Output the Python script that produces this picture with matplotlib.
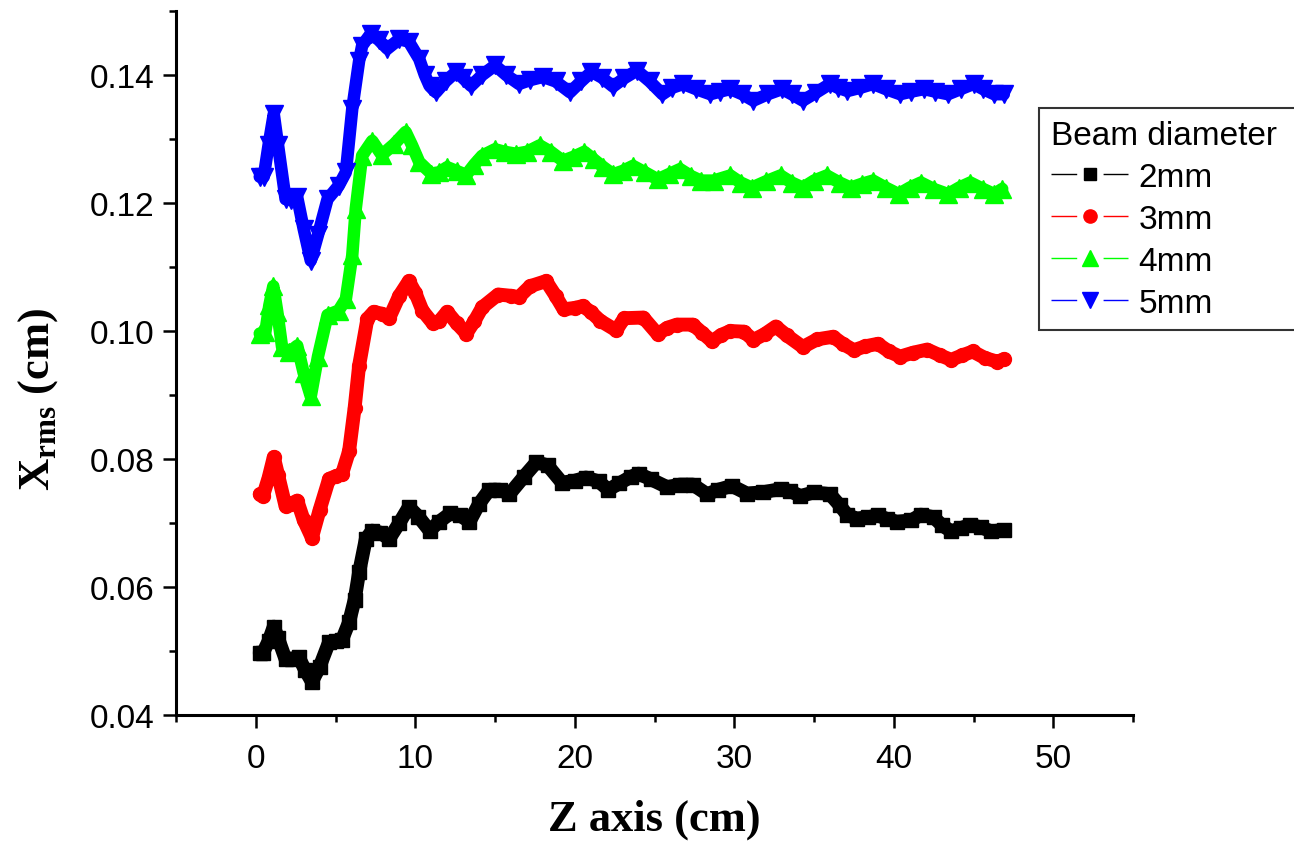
import numpy as np
import matplotlib
matplotlib.use('Agg')
import matplotlib.pyplot as plt
from matplotlib.lines import Line2D
from matplotlib.ticker import FixedLocator, FormatStrFormatter

plt.rcParams['font.family'] = ['Liberation Sans', 'DejaVu Sans']
plt.rcParams['mathtext.fontset'] = 'custom'
plt.rcParams['mathtext.rm'] = 'Liberation Serif:bold'
plt.rcParams['mathtext.bf'] = 'Liberation Serif:bold'
plt.rcParams['lines.scale_dashes'] = False

# Данные: Z (cm) и X_rms (cm)
x_2mm = [0.25, 0.45, 0.8, 1.13, 1.4, 1.87, 2.3, 2.7, 3.1, 3.52, 4.0, 4.6, 5.0, 5.4, 5.85, 6.2,
         6.48, 6.9, 7.3, 7.8, 8.36, 9.0, 9.6, 10.2, 10.9, 11.5, 12.2, 12.8, 13.4, 14.0, 14.65,
         15.3, 15.9, 16.8, 17.6, 18.3, 19.2, 20.0, 20.7, 21.5, 22.1, 22.8, 23.5, 24.0, 24.8,
         25.8, 26.6, 27.4, 28.3, 29.0, 29.85, 30.8, 31.8, 32.9, 33.5, 34.15, 35.0, 36.0, 36.6,
         37.1, 37.7, 38.4, 39.0, 39.6, 40.2, 41.1, 41.7, 42.5, 43.0, 43.6, 44.2, 44.8, 45.5,
         46.1, 46.9]
y_2mm = [0.0497, 0.0497, 0.0515, 0.0538, 0.0520, 0.0487, 0.0488, 0.0490, 0.0470, 0.0452,
         0.0475, 0.0514, 0.0516, 0.0517, 0.0545, 0.0580, 0.0623, 0.0675, 0.0688, 0.0685,
         0.0675, 0.0700, 0.0725, 0.0710, 0.0688, 0.0702, 0.0715, 0.0712, 0.0702, 0.0730,
         0.0752, 0.0752, 0.0745, 0.0772, 0.0795, 0.0790, 0.0763, 0.0766, 0.0771, 0.0765,
         0.0752, 0.0762, 0.0772, 0.0777, 0.0768, 0.0756, 0.0760, 0.0760, 0.0745, 0.0752,
         0.0758, 0.0746, 0.0748, 0.0753, 0.0750, 0.0742, 0.0748, 0.0745, 0.0728, 0.0712,
         0.0707, 0.0709, 0.0712, 0.0706, 0.0702, 0.0704, 0.0713, 0.0709, 0.0697, 0.0687,
         0.0692, 0.0697, 0.0693, 0.0687, 0.0689]

x_3mm = [0.25, 0.45, 0.8, 1.13, 1.4, 1.87, 2.2, 2.6, 3.0, 3.52, 4.0, 4.6, 5.0, 5.4, 5.85, 6.2,
         6.48, 7.0, 7.4, 7.9, 8.36, 9.0, 9.6, 10.0, 10.45, 11.1, 11.5, 12.0, 12.6, 13.2, 13.7,
         14.2, 15.2, 16.0, 16.5, 17.2, 18.2, 18.8, 19.3, 20.0, 20.5, 21.0, 21.6, 22.6, 23.1,
         24.3, 25.2, 25.8, 26.4, 27.4, 28.0, 28.6, 29.2, 29.75, 30.6, 31.2, 31.9, 32.6, 33.3,
         34.3, 35.2, 36.2, 36.8, 37.5, 38.2, 39.0, 39.7, 40.4, 41.2, 42.1, 42.9, 43.6, 44.3,
         44.95, 45.7, 46.5, 46.9]
y_3mm = [0.0745, 0.0742, 0.0770, 0.0803, 0.0775, 0.0726, 0.0730, 0.0735, 0.0705, 0.0677,
         0.0720, 0.0769, 0.0773, 0.0776, 0.0812, 0.0880, 0.0946, 0.1019, 0.1030, 0.1027,
         0.1020, 0.1055, 0.1078, 0.1060, 0.1032, 0.1012, 0.1015, 0.1030, 0.1012, 0.0996,
         0.1015, 0.1037, 0.1057, 0.1055, 0.1053, 0.1070, 0.1078, 0.1055, 0.1034, 0.1036,
         0.1039, 0.1030, 0.1016, 0.1001, 0.1020, 0.1021, 0.0995, 0.1005, 0.1010, 0.1010,
         0.0997, 0.0984, 0.0994, 0.1000, 0.0999, 0.0986, 0.0995, 0.1007, 0.0993, 0.0975,
         0.0987, 0.0991, 0.0980, 0.0970, 0.0976, 0.0980, 0.0968, 0.0960, 0.0966, 0.0971,
         0.0962, 0.0955, 0.0962, 0.0968, 0.0958, 0.0952, 0.0956]

x_4mm = [0.25, 0.6, 0.85, 1.1, 1.35, 1.65, 2.1, 2.6, 3.0, 3.45, 3.9, 4.5, 5.2, 5.65, 6.05,
         6.27, 6.67, 7.3, 7.9, 8.68, 9.4, 9.8, 10.25, 11.0, 11.5, 12.0, 12.6, 13.2, 13.7,
         14.2, 15.0, 15.6, 16.3, 17.0, 17.8, 18.5, 19.25, 19.9, 20.6, 21.2, 21.8, 22.4, 23.0,
         23.65, 24.4, 25.2, 25.9, 26.6, 27.3, 27.9, 28.7, 29.75, 30.4, 31.1, 32.0, 32.9,
         33.6, 34.3, 35.0, 35.8, 36.6, 37.3, 38.0, 38.7, 39.5, 40.3, 41.0, 41.7, 42.5, 43.4,
         44.1, 44.8, 45.6, 46.3, 46.8]
y_4mm = [0.0996, 0.0998, 0.1040, 0.1070, 0.1030, 0.0975, 0.0967, 0.0977, 0.0935, 0.0898,
         0.0960, 0.1025, 0.1032, 0.1050, 0.1118, 0.1191, 0.1274, 0.1297, 0.1275, 0.1292,
         0.1311, 0.1290, 0.1264, 0.1246, 0.1248, 0.1256, 0.1250, 0.1244, 0.1260, 0.1274,
         0.1284, 0.1280, 0.1277, 0.1280, 0.1290, 0.1280, 0.1266, 0.1272, 0.1280, 0.1268,
         0.1256, 0.1245, 0.1250, 0.1258, 0.1248, 0.1237, 0.1245, 0.1253, 0.1242, 0.1235,
         0.1235, 0.1243, 0.1232, 0.1224, 0.1234, 0.1243, 0.1232, 0.1224, 0.1235, 0.1243,
         0.1232, 0.1224, 0.1230, 0.1235, 0.1224, 0.1214, 0.1224, 0.1232, 0.1222, 0.1214,
         0.1224, 0.1232, 0.1222, 0.1214, 0.1222]

x_5mm = [0.25, 0.5, 0.8, 1.13, 1.4, 1.87, 2.2, 2.6, 3.0, 3.45, 3.9, 4.5, 5.2, 5.65, 6.05,
         6.48, 6.67, 7.2, 7.7, 8.25, 9.0, 9.6, 10.25, 10.6, 10.9, 11.3, 11.9, 12.56, 13.0,
         13.5, 14.2, 15.0, 15.7, 16.5, 17.2, 18.0, 18.8, 19.7, 20.4, 21.05, 21.7, 22.4, 23.1,
         23.9, 24.7, 25.5, 26.1, 26.8, 27.6, 28.5, 29.1, 29.75, 30.5, 31.2, 32.1, 33.0, 33.6,
         34.3, 35.1, 36.0, 36.5, 37.1, 37.9, 38.7, 39.5, 40.4, 41.1, 41.9, 42.6, 43.4, 44.2,
         45.0, 45.6, 46.3, 46.9]
y_5mm = [0.1241, 0.1241, 0.1290, 0.1339, 0.1290, 0.1206, 0.1205, 0.1209, 0.1160, 0.1110,
         0.1150, 0.1206, 0.1227, 0.1248, 0.1347, 0.1422, 0.1446, 0.1464, 0.1455, 0.1441,
         0.1456, 0.1452, 0.1425, 0.1400, 0.1383, 0.1373, 0.1390, 0.1405, 0.1395, 0.1383,
         0.1400, 0.1415, 0.1400, 0.1386, 0.1392, 0.1397, 0.1390, 0.1373, 0.1390, 0.1405,
         0.1396, 0.1382, 0.1395, 0.1407, 0.1390, 0.1370, 0.1380, 0.1386, 0.1378, 0.1370,
         0.1374, 0.1378, 0.1370, 0.1360, 0.1370, 0.1378, 0.1370, 0.1360, 0.1372, 0.1386,
         0.1380, 0.1375, 0.1380, 0.1386, 0.1378, 0.1370, 0.1374, 0.1378, 0.1374, 0.1370,
         0.1378, 0.1386, 0.1378, 0.1370, 0.1370]

labels = ['2mm', '3mm', '4mm', '5mm']
colors = ['#000000', '#ff0000', '#00ff00', '#0000ff']
markers = ['s', 'o', '^', 'v']
series = [(x_2mm, y_2mm), (x_3mm, y_3mm), (x_4mm, y_4mm), (x_5mm, y_5mm)]

fig = plt.figure(figsize=(12.94, 8.45), dpi=100)
ax = fig.add_axes([176 / 1294, 1 - 716 / 845, (1133 - 176) / 1294, (716 - 12) / 845])

# Толстая полоса из линии и маркеров, как в исходнике
band_lw = [10, 10, 9, 9]
band_ms = [9.5, 10.0, 13, 13]
for (xs, ys), c, m, lw, ms in zip(series, colors, markers, band_lw, band_ms):
    ax.plot(xs, ys, color=c, lw=lw, solid_capstyle='round', solid_joinstyle='round',
            marker=m, ms=ms, mec=c, mfc=c)

ax.set_xlim(-5, 55)
ax.set_ylim(0.04, 0.15)
ax.xaxis.set_major_locator(FixedLocator([0, 10, 20, 30, 40, 50]))
ax.xaxis.set_minor_locator(FixedLocator([-5, 5, 15, 25, 35, 45, 55]))
ax.yaxis.set_major_locator(FixedLocator([0.04, 0.06, 0.08, 0.10, 0.12, 0.14]))
ax.yaxis.set_minor_locator(FixedLocator([0.05, 0.07, 0.09, 0.11, 0.13, 0.15]))
ax.yaxis.set_major_formatter(FormatStrFormatter('%.2f'))

for side in ['top', 'right']:
    ax.spines[side].set_visible(False)
for side in ['left', 'bottom']:
    ax.spines[side].set_linewidth(2.2)

ax.tick_params(axis='both', which='major', direction='out', length=9.5, width=1.8, labelsize=24)
ax.tick_params(axis='both', which='minor', direction='out', length=5, width=1.8)
ax.tick_params(axis='x', which='major', pad=11)
ax.tick_params(axis='y', which='major', pad=6)

ax.set_xlabel('Z axis (cm)', fontsize=32, fontweight='bold', family='Liberation Serif')
ax.xaxis.set_label_coords(0.5, -0.118)
ax.set_ylabel(r'X$_{\mathbf{rms}}$ (cm)', fontsize=32, fontweight='bold', family='Liberation Serif')
ax.yaxis.set_label_coords(-0.121, 0.449)

# Легенда с разрывом линии у маркера; рамка уходит за правый край
handles = []
leg_ms = [8.5, 9.5, 11, 11]
for c, m, lab, ms in zip(colors, markers, labels, leg_ms):
    handles.append(Line2D([], [], color=c, lw=1, linestyle=(0, (18.5, 19)),
                          marker=m, ms=ms, mec=c, mfc=c, label=lab))
leg = ax.legend(handles=handles, title='Beam diameter', loc='upper left', mode='expand',
                bbox_to_anchor=(1039 / 1294, 1 - 109 / 845 - 0.01, 300 / 1294, 0.01),
                bbox_transform=fig.transFigure,
                borderaxespad=0, fontsize=24, title_fontsize=24, frameon=True, fancybox=False,
                edgecolor='black', handlelength=2.33, handletextpad=0.3, labelspacing=0.33,
                borderpad=0.35, alignment='left', numpoints=1)
leg.get_frame().set_linewidth(1.5)

plt.savefig('out.png', dpi=100, facecolor='white')
